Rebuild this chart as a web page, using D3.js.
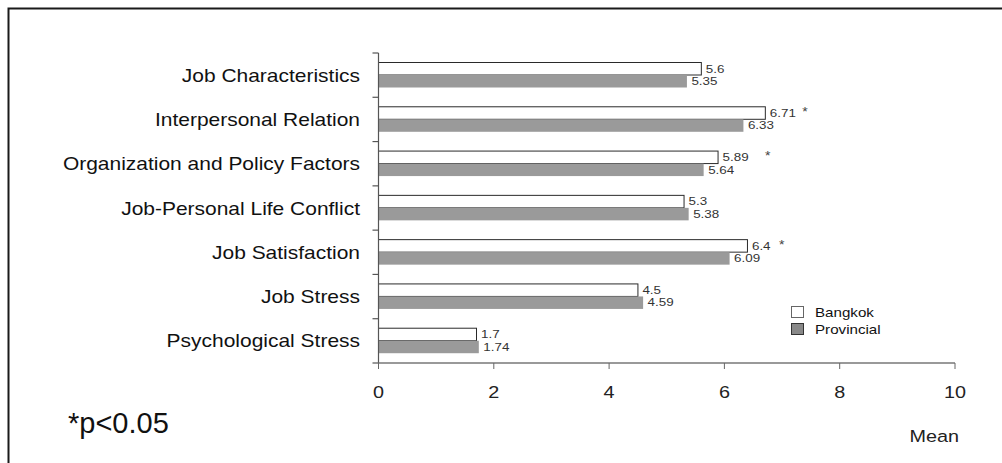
<!DOCTYPE html>
<html>
<head>
<meta charset="utf-8">
<script src="https://cdn.jsdelivr.net/npm/d3@7/dist/d3.min.js"></script>
<style>
  html, body { margin: 0; padding: 0; background: #fff; }
  svg { display: block; font-family: "Liberation Sans", Arial, sans-serif; }
</style>
</head>
<body>
<svg id="chart" width="1002" height="463"></svg>
<script>
// Work-stress domain means, Bangkok vs. provincial respondents
const categories = [
  "Job Characteristics",
  "Interpersonal Relation",
  "Organization and Policy Factors",
  "Job-Personal Life Conflict",
  "Job Satisfaction",
  "Job Stress",
  "Psychological Stress"
];
const series = ["Bangkok", "Provincial"];
const bangkok    = [5.6, 6.71, 5.89, 5.3, 6.4, 4.5, 1.7];
const provincial = [5.35, 6.33, 5.64, 5.38, 6.09, 4.59, 1.74];
const significant = [false, true, true, false, true, false, false];
const xTicks = [0, 2, 4, 6, 8, 10];

const svg = d3.select("#chart");
const SX = 1.165; // horizontal stretch applied to text glyphs

// outer frame (open on the right and bottom)
svg.append("rect")
  .attr("x", 8.5).attr("y", 8.5)
  .attr("width", 1100).attr("height", 600)
  .attr("fill", "none").attr("stroke", "#1a1a1a").attr("stroke-width", 2);

const x = d3.scaleLinear().domain([0, 10]).range([378.5, 955]);
const y = d3.scaleBand().domain(categories).range([53, 363]);
const ySub = d3.scaleBand().domain(series).range([9.5, 34.5]);

function stretchedText(sel, tx, ty) {
  return sel.attr("transform", `translate(${tx},${ty}) scale(${SX},1)`);
}

// bars
const rows = categories.map((c, i) => ({ c, i, vals: [bangkok[i], provincial[i]] }));
const g = svg.append("g");
const row = g.selectAll("g.row").data(rows).join("g")
  .attr("class", "row")
  .attr("transform", d => `translate(0,${y(d.c)})`);

row.each(function (d) {
  const r = d3.select(this);
  series.forEach((s, k) => {
    const v = d.vals[k];
    const y0 = ySub(s), h = ySub.bandwidth();
    r.append("rect")
      .attr("x", x(0)).attr("y", y0)
      .attr("width", x(v) - x(0)).attr("height", h)
      .attr("fill", k === 0 ? "#ffffff" : "#9a9a9a")
      .attr("stroke", k === 0 ? "#2a2a2a" : "none")
      .attr("stroke-width", 1);
    const t = r.append("text")
      .attr("font-size", 11.5).attr("fill", "#333")
      .text(v);
    stretchedText(t, x(v) + 4.5, y0 + h - 2.5);
  });
});

// significance markers next to the Bangkok values
const starGap = [0, 3, 13, 0, 5, 0, 0];
row.filter(d => significant[d.i]).each(function (d) {
  const v = d.vals[0];
  const labelW = String(v).length * 6.3 * SX;
  const t = d3.select(this).append("text")
    .attr("font-size", 12).attr("fill", "#444")
    .text("*");
  stretchedText(t, x(v) + 4.5 + labelW + starGap[d.i], ySub("Bangkok") + 9);
});

// category axis
const yAxis = svg.append("g");
yAxis.append("line")
  .attr("x1", x(0)).attr("x2", x(0))
  .attr("y1", 53).attr("y2", 363)
  .attr("stroke", "#555").attr("stroke-width", 1.2);
yAxis.selectAll("line.tick").data(categories.concat(["__end"])).join("line")
  .attr("class", "tick")
  .attr("x1", x(0) - 6).attr("x2", x(0))
  .attr("y1", (d, i) => i < categories.length ? y(d) : 363)
  .attr("y2", (d, i) => i < categories.length ? y(d) : 363)
  .attr("stroke", "#555").attr("stroke-width", 1.2);
yAxis.selectAll("text").data(categories).join("text")
  .attr("font-size", 18).attr("fill", "#111")
  .attr("text-anchor", "end")
  .text(d => d)
  .each(function (d) {
    stretchedText(d3.select(this), 360, y(d) + y.bandwidth() / 2 + 6.5);
  });

// value axis
const xAxis = svg.append("g");
xAxis.append("line")
  .attr("x1", x(0)).attr("x2", x(10))
  .attr("y1", 363).attr("y2", 363)
  .attr("stroke", "#777").attr("stroke-width", 1.5);
xAxis.selectAll("line.tick").data(xTicks).join("line")
  .attr("class", "tick")
  .attr("x1", d => x(d)).attr("x2", d => x(d))
  .attr("y1", 363).attr("y2", 369)
  .attr("stroke", "#666").attr("stroke-width", 1);
xAxis.selectAll("text").data(xTicks).join("text")
  .attr("font-size", 17).attr("fill", "#222")
  .attr("text-anchor", "middle")
  .text(d => d)
  .each(function (d) {
    stretchedText(d3.select(this), x(d), 398);
  });

stretchedText(
  svg.append("text").attr("font-size", 17).attr("fill", "#222")
    .attr("text-anchor", "end").text("Mean"),
  959, 442);

// legend
const legend = svg.append("g");
series.forEach((s, k) => {
  const ly = 306 + k * 17;
  legend.append("rect")
    .attr("x", 791.5).attr("y", ly + 0.5)
    .attr("width", 12).attr("height", 11)
    .attr("fill", k === 0 ? "#fff" : "#888")
    .attr("stroke", k === 0 ? "#666" : "#333").attr("stroke-width", 1);
  stretchedText(
    legend.append("text").attr("font-size", 13).attr("fill", "#111").text(s),
    815, ly + 10.5);
});

// significance note
svg.append("text")
  .attr("x", 68).attr("y", 433)
  .attr("font-size", 29).attr("fill", "#111")
  .text("*p<0.05");
</script>
</body>
</html>
